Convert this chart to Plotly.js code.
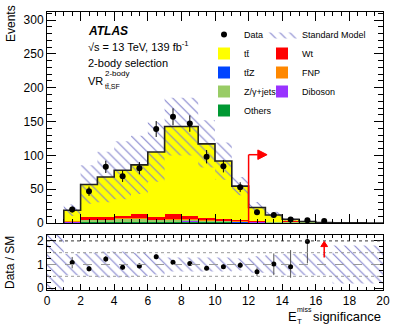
<!DOCTYPE html>
<html><head><meta charset="utf-8">
<script src="https://cdn.plot.ly/plotly-3.0.1.min.js"></script>
<style>body{margin:0;padding:0;background:#fff}#plot{width:399px;height:328px}</style>
</head><body><div id="plot"></div>
<script>
// ---- data ----
const binEdges   = [0,1,2,3,4,5,6,7,8,9,10,11,12,13,14,15,16,17,18,19,20];
const binCenters = [0.5,1.5,2.5,3.5,4.5,5.5,6.5,7.5,8.5,9.5,10.5,11.5,12.5,13.5,14.5,15.5,16.5,17.5,18.5,19.5];
const ttbar   = [0,15.5,47.7,58.7,67.1,72.7,96.6,129.3,131.7,110,86.2,50,20.3,9.7,3.3,1.1,0.25,0.12,0.07,0.05];
const wt      = [0,1.0,4.3,4.3,4.2,5.7,3.8,7.6,5.7,3.0,2.3,2.0,1.0,0.6,0.3,0.1,0.05,0.02,0.01,0];
const fnp     = [0,0.4,0.8,0.8,0.8,1.0,0.7,1.0,0.9,0.7,0.5,0.4,0.3,0.2,0.1,0.05,0.02,0.01,0,0];
const zjets   = [0,1.0,2.5,2.5,3.8,4.5,2.0,2.5,2.0,1.5,1.0,0.8,0.6,0.8,1.5,0.8,0.2,0.1,0.05,0.03];
const diboson = [0,0.2,0.4,0.4,0.5,0.5,0.4,0.5,0.5,0.4,0.3,0.3,0.2,0.1,0.1,0.05,0.02,0.01,0,0];
const ttz     = [0,0.1,0.3,0.3,0.4,0.4,0.5,0.7,0.8,0.6,0.5,0.4,0.2,0.1,0.05,0.03,0.01,0.01,0,0];
const others  = [0,0.6,1.0,1.0,1.2,1.2,1.0,1.0,1.0,0.8,0.8,0.6,0.4,0.3,0.2,0.1,0.05,0.03,0.02,0.02];
const relUnc  = [1.5,0.45,0.5,0.55,0.55,0.5,0.42,0.3,0.3,0.3,0.3,0.25,0.35,0.4,0.45,0.45,0.45,0.8,0.8,0.8];

const dataX    = [1.5,2.5,3.5,4.5,5.5,6.5,7.5,8.5,9.5,10.5,11.5,12.5,13.5,14.5,15.5,16.5];
const dataY    = [20,47,83,69,81,139,157,147,98,84,53,16,12,5,4,3];
const dataErr  = [4.5,6.9,9.1,8.3,9.0,11.8,12.5,12.1,9.9,9.2,7.3,4.0,3.5,2.2,2.0,1.7];

const ratioX        = [1.5,2.5,3.5,4.5,5.5,6.5,7.5,8.5,9.5,10.5,11.5,12.5,13.5,14.5,15.5];
const ratioY        = [1.08,0.82,1.23,0.88,0.94,1.33,1.10,1.04,0.84,0.91,0.97,0.69,1.02,0.91,1.97];
const ratioErrUp    = [0.24,0.12,0.13,0.11,0.10,0.11,0.09,0.08,0.08,0.10,0.13,0.18,0.45,0.70,0.40];
const ratioErrDown  = [0.24,0.12,0.13,0.11,0.10,0.11,0.09,0.08,0.08,0.10,0.13,0.18,0.47,0.47,0.92];

const cutValue = 12, cutArrowY = 101, cutArrowEnd = 13.1;
const offScaleX = 16.5, offScaleLow = 1.3, offScaleHigh = 1.98;

// ---- derived ----
const comps = [others, ttz, diboson, zjets, fnp, wt, ttbar];
const total = binCenters.map((_, i) => comps.reduce((s, c) => s + c[i], 0));

function stepBand(lo, hi, first) {
  const xs = [], ys = [];
  for (let i = first; i < binCenters.length; i++) { xs.push(binEdges[i], binEdges[i+1]); ys.push(hi[i], hi[i]); }
  for (let i = binCenters.length - 1; i >= first; i--) { xs.push(binEdges[i+1], binEdges[i]); ys.push(lo[i], lo[i]); }
  return {x: xs, y: ys};
}
const mainBand  = stepBand(total.map((t,i)=>t*(1-relUnc[i])), total.map((t,i)=>t*(1+relUnc[i])), 1);
const ratioBand = stepBand(relUnc.map(u=>1-u), relUnc.map(u=>1+u), 0);

const outlineX = [binEdges[1]], outlineY = [0];
for (let i = 1; i < binCenters.length; i++) { outlineX.push(binEdges[i]); outlineY.push(total[i]); }
outlineX.push(binEdges[binEdges.length-1]); outlineY.push(total[total.length-1]);

const hatch = {shape: '\\', fgcolor: '#8080cc', bgcolor: 'rgba(0,0,0,0)', size: 7, solidity: 0.15};
const FONT = 'Liberation Sans, Arial, Helvetica, sans-serif';

function bar(name, y, color, legend, rank) {
  return {type: 'bar', x: binCenters, y: y, width: 1, name: name, marker: {color: color, line: {width: 0}},
          xaxis: 'x', yaxis: 'y', legend: legend, legendrank: rank, hoverinfo: 'skip'};
}

const traces = [
  bar('Others', others, '#009933', 'legend', 5),
  bar('tt\u0304Z', ttz, '#0044ff', 'legend', 3),
  bar('Diboson', diboson, '#9933ff', 'legend2', 4),
  bar('Z/\u03b3+jets', zjets, '#99cc66', 'legend', 4),
  bar('FNP', fnp, '#ff8800', 'legend2', 3),
  bar('Wt', wt, '#ff0000', 'legend2', 2),
  bar('tt\u0304', ttbar, '#ffff00', 'legend', 2),
  {type: 'scatter', x: mainBand.x, y: mainBand.y, fill: 'toself', fillcolor: 'rgba(0,0,0,0)', fillpattern: hatch,
   line: {width: 0, color: 'rgba(0,0,0,0)'}, mode: 'lines', name: 'Standard Model', legend: 'legend2', legendrank: 1,
   xaxis: 'x', yaxis: 'y', hoverinfo: 'skip'},
  {type: 'scatter', x: outlineX, y: outlineY, mode: 'lines', line: {shape: 'hv', color: '#222', width: 1.6},
   showlegend: false, xaxis: 'x', yaxis: 'y', hoverinfo: 'skip'},
  {type: 'scatter', x: dataX, y: dataY, mode: 'markers', name: 'Data', legend: 'legend', legendrank: 1,
   marker: {color: 'black', size: 6}, error_y: {type: 'data', array: dataErr, color: 'black', thickness: 1, width: 0},
   xaxis: 'x', yaxis: 'y'},
  {type: 'scatter', x: ratioBand.x, y: ratioBand.y, fill: 'toself', fillcolor: 'rgba(0,0,0,0)', fillpattern: hatch,
   line: {width: 0, color: 'rgba(0,0,0,0)'}, mode: 'lines', showlegend: false, xaxis: 'x2', yaxis: 'y2', hoverinfo: 'skip'},
  {type: 'scatter', x: ratioX, y: ratioY, mode: 'markers', showlegend: false, marker: {color: 'black', size: 5},
   error_y: {type: 'data', symmetric: false, array: ratioErrUp, arrayminus: ratioErrDown, color: '#555', thickness: 1, width: 0},
   xaxis: 'x2', yaxis: 'y2'}
];

// pixel -> paper helpers for decorations
const L = 47, R = 383, T = 12, B = 290;
const px = v => (v - L) / (R - L);
const py = v => (B - v) / (B - T);

const axBase = {ticks: 'inside', mirror: 'ticks', showline: true, linecolor: 'black', linewidth: 1, tickcolor: 'black',
  showgrid: false, zeroline: false, tickfont: {family: FONT, size: 12, color: 'black'}};

// cut arrow geometry (from the cut constants)
const headLen = 0.55, headHalf = 7;
const cutHead = `M${cutArrowEnd},${cutArrowY} L${cutArrowEnd-headLen},${cutArrowY+headHalf} L${cutArrowEnd-headLen},${cutArrowY-headHalf} Z`;
const rHeadHalfW = 0.2, rHeadLen = 0.22;
const offHead = `M${offScaleX},${offScaleHigh} L${offScaleX-rHeadHalfW},${offScaleHigh-rHeadLen} L${offScaleX+rHeadHalfW},${offScaleHigh-rHeadLen} Z`;

const layout = {
  width: 399, height: 328, margin: {l: L, r: 399 - R, t: T, b: 328 - B},
  paper_bgcolor: 'white', plot_bgcolor: 'white', barmode: 'stack', bargap: 0,
  font: {family: FONT, color: 'black'},
  xaxis: Object.assign({}, axBase, {domain: [0,1], anchor: 'y', range: [0,20], dtick: 2, ticklen: 9, showticklabels: false,
    minor: {dtick: 0.5, ticklen: 4, ticks: 'inside', tickcolor: 'black'}}),
  yaxis: Object.assign({}, axBase, {domain: [py(223), 1], anchor: 'x', range: [0,312], dtick: 50, ticklen: 9,
    minor: {dtick: 10, ticklen: 5, ticks: 'inside', tickcolor: 'black'}}),
  xaxis2: Object.assign({}, axBase, {domain: [0,1], anchor: 'y2', range: [0,20], dtick: 2, ticklen: 6,
    minor: {dtick: 0.5, ticklen: 3, ticks: 'inside', tickcolor: 'black'}}),
  yaxis2: Object.assign({}, axBase, {domain: [0, py(235)], anchor: 'x2', range: [-0.08,2.25], tickvals: [0,1,2], ticklen: 9,
    minor: {dtick: 0.25, ticklen: 4, ticks: 'inside', tickcolor: 'black'}}),
  legend: {x: px(204), y: py(20), xanchor: 'left', yanchor: 'top', bgcolor: 'rgba(0,0,0,0)', itemwidth: 30,
    font: {family: FONT, size: 9}, tracegroupgap: 0, traceorder: 'normal'},
  legend2: {x: px(262), y: py(20), xanchor: 'left', yanchor: 'top', bgcolor: 'rgba(0,0,0,0)', itemwidth: 30,
    font: {family: FONT, size: 9}, tracegroupgap: 0, traceorder: 'normal'},
  shapes: [
    {type: 'line', xref: 'x', yref: 'y', x0: cutValue, x1: cutValue, y0: 0, y1: cutArrowY, line: {color: 'red', width: 1.5}},
    {type: 'line', xref: 'x', yref: 'y', x0: cutValue, x1: cutArrowEnd - headLen, y0: cutArrowY, y1: cutArrowY, line: {color: 'red', width: 1.5}},
    {type: 'path', xref: 'x', yref: 'y', path: cutHead, fillcolor: 'red', line: {color: 'red', width: 1}},
    {type: 'line', xref: 'x2 domain', yref: 'y2', x0: 0, x1: 1, y0: 2, y1: 2, line: {color: '#333', width: 1, dash: 'dot'}},
    {type: 'line', xref: 'x2 domain', yref: 'y2', x0: 0, x1: 1, y0: 1.5, y1: 1.5, line: {color: '#999', width: 1, dash: 'dot'}},
    {type: 'line', xref: 'x2 domain', yref: 'y2', x0: 0, x1: 1, y0: 0.5, y1: 0.5, line: {color: '#999', width: 1, dash: 'dot'}},
    {type: 'line', xref: 'x2 domain', yref: 'y2', x0: 0, x1: 1, y0: 1, y1: 1, line: {color: '#999', width: 1, dash: 'dash'}},
    {type: 'line', xref: 'x2', yref: 'y2', x0: offScaleX, x1: offScaleX, y0: offScaleLow, y1: offScaleHigh - rHeadLen, line: {color: 'red', width: 1.5}},
    {type: 'path', xref: 'x2', yref: 'y2', path: offHead, fillcolor: 'red', line: {color: 'red', width: 1}}
  ],
  annotations: [
    {xref: 'paper', yref: 'paper', x: px(86), y: py(31), xanchor: 'left', yanchor: 'middle', showarrow: false,
     text: '<b><i>ATLAS</i></b>', font: {family: FONT, size: 12}},
    {xref: 'paper', yref: 'paper', x: px(86), y: py(46), xanchor: 'left', yanchor: 'middle', showarrow: false,
     text: '\u221As = 13 TeV, 139 fb<sup>-1</sup>', font: {family: FONT, size: 11}},
    {xref: 'paper', yref: 'paper', x: px(86), y: py(63), xanchor: 'left', yanchor: 'middle', showarrow: false,
     text: '2-body selection', font: {family: FONT, size: 11}},
    {xref: 'paper', yref: 'paper', x: px(86), y: py(81), xanchor: 'left', yanchor: 'middle', showarrow: false,
     text: 'VR', font: {family: FONT, size: 11}},
    {xref: 'paper', yref: 'paper', x: px(103), y: py(74), xanchor: 'left', yanchor: 'middle', showarrow: false,
     text: '2-body', font: {family: FONT, size: 8}},
    {xref: 'paper', yref: 'paper', x: px(103), y: py(86), xanchor: 'left', yanchor: 'middle', showarrow: false,
     text: 'tt\u0304,SF', font: {family: FONT, size: 7}},
    {xref: 'paper', yref: 'paper', x: px(11), y: py(24), xanchor: 'center', yanchor: 'middle', showarrow: false,
     text: 'Events', textangle: -90, font: {family: FONT, size: 12}},
    {xref: 'paper', yref: 'paper', x: px(10), y: py(263), xanchor: 'center', yanchor: 'middle', showarrow: false,
     text: 'Data / SM', textangle: -90, font: {family: FONT, size: 12}},
    {xref: 'paper', yref: 'paper', x: px(286), y: py(316), xanchor: 'left', yanchor: 'middle', showarrow: false,
     text: 'E', font: {family: FONT, size: 13}},
    {xref: 'paper', yref: 'paper', x: px(295), y: py(309), xanchor: 'left', yanchor: 'middle', showarrow: false,
     text: 'miss', font: {family: FONT, size: 7}},
    {xref: 'paper', yref: 'paper', x: px(295), y: py(321), xanchor: 'left', yanchor: 'middle', showarrow: false,
     text: 'T', font: {family: FONT, size: 8}},
    {xref: 'paper', yref: 'paper', x: px(383), y: py(316), xanchor: 'right', yanchor: 'middle', showarrow: false,
     text: 'significance', font: {family: FONT, size: 13}}
  ]
};

Plotly.newPlot('plot', traces, layout, {staticPlot: true, displayModeBar: false});
</script></body></html>
